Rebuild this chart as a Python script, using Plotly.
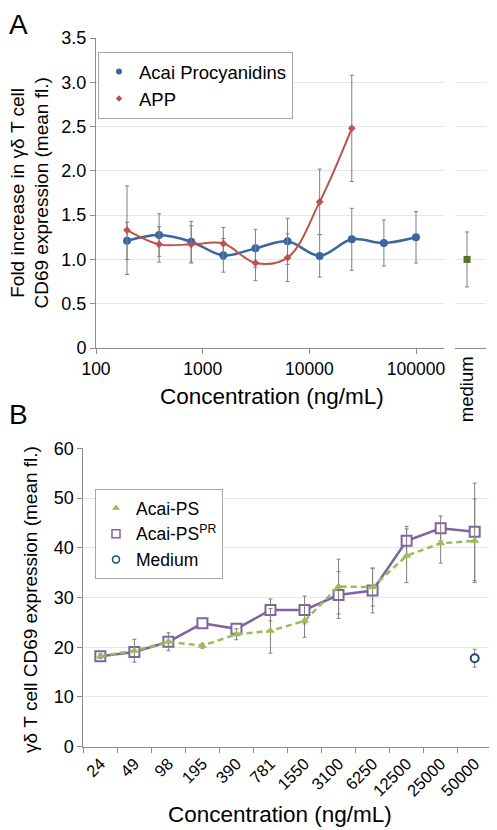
import plotly.graph_objects as go

# ---------------- Panel A data ----------------
conc_a = [195.3125, 390.625, 781.25, 1562.5, 3125, 6250, 12500, 25000, 50000, 100000]
acai_proc = [1.21, 1.275, 1.20, 1.046, 1.125, 1.204, 1.04, 1.227, 1.185, 1.25]
acai_proc_err = [0.21, 0.24, 0.23, 0.19, 0.215, 0.26, 0.24, 0.35, 0.26, 0.29]
conc_app = [195.3125, 390.625, 781.25, 1562.5, 3125, 6250, 12500, 25000]
app = [1.33, 1.17, 1.17, 1.18, 0.96, 1.02, 1.65, 2.48]
app_err = [0.50, 0.20, 0.21, 0.18, 0.20, 0.27, 0.37, 0.60]
medium_a_cat = ["medium"]
medium_a = [1.0]
medium_a_err = [0.31]
a_xtick_vals = [100, 1000, 10000, 100000]
a_xtick_text = ["100", "1000", "10000", "100000"]
a_ytick_vals = [0, 0.5, 1.0, 1.5, 2.0, 2.5, 3.0, 3.5]
a_ytick_text = ["0", "0.5", "1.0", "1.5", "2.0", "2.5", "3.0", "3.5"]

# ---------------- Panel B data ----------------
cats_b = ["24", "49", "98", "195", "390", "781", "1550", "3100", "6250", "12500", "25000", "50000"]
acai_ps = [18.2, 19.3, 21.1, 20.3, 22.6, 23.3, 25.3, 32.2, 32.1, 38.4, 40.9, 41.4]
acai_ps_err = [0.5, 2.3, 1.8, 0.5, 1.1, 4.5, 3.3, 5.5, 3.8, 5.4, 4.0, 8.4]
acai_pspr = [18.2, 19.05, 21.1, 24.8, 23.7, 27.5, 27.5, 30.5, 31.4, 41.4, 43.9, 43.2]
acai_pspr_err = [0.4, 1.0, 1.0, 1.0, 1.0, 2.2, 2.8, 4.7, 4.5, 2.9, 2.5, 9.8]
medium_b_cat = ["50000"]
medium_b = [17.8]
medium_b_err = [1.8]

# page body has an 8px margin: lay out in window pixels, shifted by OFF
OFF = 8
W, H = 497 - OFF, 830 - OFF
FONT = "Liberation Sans, Arial, sans-serif"
BLUE = "#3b66a0"
RED = "#c0504d"
OLIVE = "#55702a"
PURPLE = "#8064a2"
GREEN = "#9bbb59"
NAVY = "#1f497d"
GRID = "#e6e6e6"
AXIS = "#8c8c8c"
ERR = "#7f7f7f"


def px(x):
    return (x - OFF) / W


def py(y):
    return 1 - (y - OFF) / H


def err(vals):
    return dict(type="data", array=vals, visible=True, color=ERR, thickness=1, width=2)


fig = go.Figure()

# Panel A traces
fig.add_trace(go.Scatter(x=conc_a, y=acai_proc, mode="lines+markers", name="Acai Procyanidins",
                         line=dict(color=BLUE, width=2.5, shape="spline", smoothing=1),
                         marker=dict(color=BLUE, size=8, symbol="circle"),
                         error_y=err(acai_proc_err), showlegend=False, xaxis="x", yaxis="y"))
fig.add_trace(go.Scatter(x=conc_app, y=app, mode="lines+markers", name="APP",
                         line=dict(color=RED, width=2, shape="spline", smoothing=1),
                         marker=dict(color=RED, size=6, symbol="diamond"),
                         error_y=err(app_err), showlegend=False, xaxis="x", yaxis="y"))
fig.add_trace(go.Scatter(x=medium_a_cat, y=medium_a, mode="markers", name="medium",
                         marker=dict(color=OLIVE, size=7, symbol="square"),
                         error_y=err(medium_a_err), showlegend=False, xaxis="x2", yaxis="y"))
# legend A entries (marker only)
fig.add_trace(go.Scatter(x=[None], y=[None], mode="markers", name="Acai Procyanidins",
                         marker=dict(color=BLUE, size=6, symbol="circle"), legend="legend",
                         xaxis="x", yaxis="y"))
fig.add_trace(go.Scatter(x=[None], y=[None], mode="markers", name="APP",
                         marker=dict(color=RED, size=5, symbol="diamond"), legend="legend",
                         xaxis="x", yaxis="y"))

# Panel B traces
fig.add_trace(go.Scatter(x=cats_b, y=acai_pspr, mode="lines+markers", name="Acai-PS<sup>PR</sup>",
                         line=dict(color=PURPLE, width=2.5),
                         marker=dict(color="white", size=10, symbol="square",
                                     line=dict(color=PURPLE, width=2)),
                         error_y=err(acai_pspr_err), showlegend=False, xaxis="x3", yaxis="y3"))
fig.add_trace(go.Scatter(x=cats_b, y=acai_ps, mode="lines+markers", name="Acai-PS",
                         line=dict(color=GREEN, width=2.5, dash="6px,4px"),
                         marker=dict(color=GREEN, size=8, symbol="triangle-up"),
                         error_y=err(acai_ps_err), showlegend=False, xaxis="x3", yaxis="y3"))
fig.add_trace(go.Scatter(x=medium_b_cat, y=medium_b, mode="markers", name="Medium",
                         marker=dict(color="white", size=8, symbol="circle",
                                     line=dict(color=NAVY, width=2)),
                         error_y=err(medium_b_err), showlegend=False, xaxis="x3", yaxis="y3"))
# legend B entries (marker only)
fig.add_trace(go.Scatter(x=[None], y=[None], mode="markers", name="Acai-PS",
                         marker=dict(color=GREEN, size=7, symbol="triangle-up"), legend="legend2",
                         xaxis="x3", yaxis="y3"))
fig.add_trace(go.Scatter(x=[None], y=[None], mode="markers", name="Acai-PS<sup>PR</sup>",
                         marker=dict(color="white", size=8, symbol="square",
                                     line=dict(color=PURPLE, width=1.5)), legend="legend2",
                         xaxis="x3", yaxis="y3"))
fig.add_trace(go.Scatter(x=[None], y=[None], mode="markers", name="Medium",
                         marker=dict(color="white", size=7, symbol="circle",
                                     line=dict(color=NAVY, width=1.5)), legend="legend2",
                         xaxis="x3", yaxis="y3"))

ytickfont = dict(family=FONT, size=18, color="black")
xtickfont = dict(family=FONT, size=17.5, color="black")

fig.update_layout(
    template="none",
    width=W, height=H,
    margin=dict(l=0, r=0, t=0, b=0, pad=0, autoexpand=False),
    paper_bgcolor="white", plot_bgcolor="white",
    font=dict(family=FONT, color="black"),
    xaxis=dict(type="log", domain=[px(96), px(444)], range=[2, 5.2625], anchor="y",
               tickvals=a_xtick_vals, ticktext=a_xtick_text, tickfont=xtickfont,
               showgrid=False, showline=True, linecolor=AXIS, linewidth=1, automargin=False,
               ticks="outside", ticklen=5, tickcolor=AXIS, zeroline=False),
    xaxis2=dict(type="category", domain=[px(455), px(486)], range=[-0.4, 0.63], anchor="y",
                tickvals=["medium"], ticktext=["medium"], tickangle=-90,
                tickfont=dict(family=FONT, size=18.5, color="black"),
                showgrid=False, showline=True, linecolor=AXIS, linewidth=1, ticks="",
                zeroline=False, automargin=False),
    yaxis=dict(domain=[py(348), py(38)], range=[0, 3.5], anchor="x",
               tickvals=a_ytick_vals, ticktext=a_ytick_text, tickfont=ytickfont,
               showgrid=True, gridcolor=GRID, gridwidth=1, automargin=False,
               showline=True, linecolor=AXIS, linewidth=1,
               ticks="outside", ticklen=5, tickcolor=AXIS, zeroline=False),
    xaxis3=dict(type="category", domain=[px(83.3), px(491.7)], range=[-0.5, 11.5], anchor="y3",
                categoryorder="array", categoryarray=cats_b, automargin=False,
                tickangle=-45, tickfont=dict(family=FONT, size=16.5, color="black"),
                tickson="boundaries", ticks="outside", ticklen=5, tickcolor=AXIS,
                showgrid=False, showline=True, linecolor=AXIS, linewidth=1, zeroline=False),
    yaxis3=dict(domain=[py(746.7), py(448.3)], range=[0, 60], dtick=10, anchor="x3",
                tickfont=ytickfont, showgrid=True, gridcolor=GRID, gridwidth=1, automargin=False,
                showline=True, linecolor=AXIS, linewidth=1,
                ticks="outside", ticklen=5, tickcolor=AXIS, zeroline=False),
    legend=dict(x=px(98), y=py(52), xanchor="left", yanchor="top",
                bgcolor="white", bordercolor="#a6a6a6", borderwidth=1,
                font=dict(family=FONT, size=18.5, color="black"), itemwidth=30,
                tracegroupgap=0),
    legend2=dict(x=px(95), y=py(489), xanchor="left", yanchor="top",
                 bgcolor="white", bordercolor="#a6a6a6", borderwidth=1,
                 font=dict(family=FONT, size=17.5, color="black"), itemwidth=30,
                 tracegroupgap=0),
    annotations=[
        dict(text="A", x=px(8), y=py(8), xref="paper", yref="paper", showarrow=False,
             xanchor="left", yanchor="top", borderpad=0,
             font=dict(family=FONT, size=28, color="black")),
        dict(text="B", x=px(8), y=py(414.5), xref="paper", yref="paper", showarrow=False,
             xanchor="left", yanchor="middle", borderpad=0,
             font=dict(family=FONT, size=28, color="black")),
        dict(text="Fold increase in γδ T cell<br>CD69 expression (mean fl.)", x=px(29.5), y=py(193),
             xref="paper", yref="paper", showarrow=False, textangle=-90,
             xanchor="center", yanchor="middle", font=dict(family=FONT, size=19, color="black")),
        dict(text="Concentration (ng/mL)", x=px(272), y=py(396), xref="paper", yref="paper",
             showarrow=False, xanchor="center", yanchor="middle",
             font=dict(family=FONT, size=22.5, color="black")),
        dict(text="γδ T cell CD69 expression (mean fl.)", x=px(30), y=py(600),
             xref="paper", yref="paper", showarrow=False, textangle=-90,
             xanchor="center", yanchor="middle", font=dict(family=FONT, size=19, color="black")),
        dict(text="Concentration (ng/mL)", x=px(280), y=py(814), xref="paper", yref="paper",
             showarrow=False, xanchor="center", yanchor="middle",
             font=dict(family=FONT, size=22.5, color="black")),
    ],
)

fig.write_html("out.html")
